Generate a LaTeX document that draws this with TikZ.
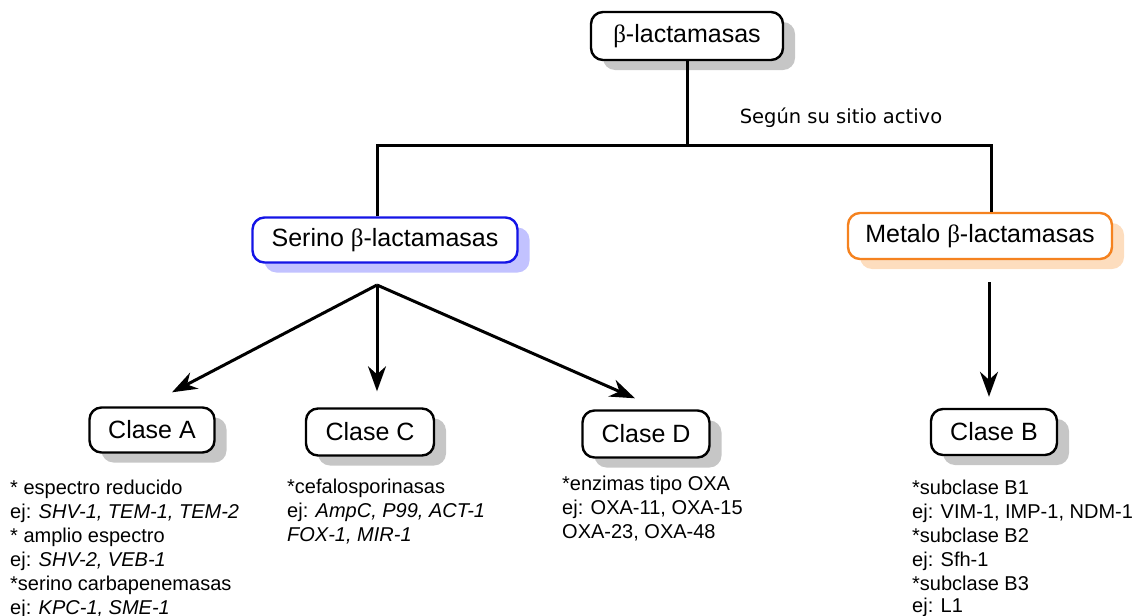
\documentclass[tikz,border=0pt]{standalone}
\usepackage{fontspec}
\setmainfont{Liberation Sans}
\newfontfamily\betafont{Liberation Serif}
\newfontfamily\notafont{DejaVu Sans}
\usetikzlibrary{shadows,arrows.meta}

\definecolor{azul}{HTML}{1414E6}
\definecolor{azulclaro}{HTML}{C2C2FF}
\definecolor{naranja}{HTML}{F5821F}
\definecolor{naranjaclaro}{HTML}{FDDDBE}
\definecolor{grisclaro}{HTML}{C6C6C6}

\newcommand{\bl}{{\betafont β}}

\tikzset{
  caja/.style={draw, line width=2.4pt, rounded corners=12pt, fill=white, inner sep=0pt,
    font=\fontsize{25}{29}\selectfont},
  sombra/.style={general shadow={fill=#1, shadow xshift=12pt, shadow yshift=-10pt}},
  linea/.style={line width=3pt},
  flecha/.style={line width=3pt, -{Stealth[length=25pt,width=18pt,inset=8pt]}},
  texto/.style={anchor=north west, align=left, inner sep=0pt,
    font=\fontsize{20}{24}\selectfont},
}

\begin{document}
\begin{tikzpicture}[x=1pt, y=-1pt]
    \useasboundingbox (0,0) rectangle (1141,616);

    % Top box and the two families
    \node[caja, sombra=grisclaro, minimum width=192pt, minimum height=48pt] (raiz) at (687,36) {\bl-lactamasas};
    \node[caja, draw=azul, sombra=azulclaro, minimum width=265pt, minimum height=45pt] (serino) at (385,240) {Serino \bl-lactamasas};
    \node[caja, draw=naranja, sombra=naranjaclaro, minimum width=264pt, minimum height=46pt] (metalo) at (980,236) {Metalo \bl-lactamasas};

    % Classes
    \node[caja, sombra=grisclaro, minimum width=125pt, minimum height=45pt] (claseA) at (152,430) {Clase A};
    \node[caja, sombra=grisclaro, minimum width=128pt, minimum height=47pt] (claseC) at (370,432) {Clase C};
    \node[caja, sombra=grisclaro, minimum width=127pt, minimum height=47pt] (claseD) at (646,434) {Clase D};
    \node[caja, sombra=grisclaro, minimum width=126pt, minimum height=46pt] (claseB) at (994,432) {Clase B};

    % Split by active site
    \coordinate (izq) at (377,145);
    \coordinate (der) at (991,145);
    \draw[linea] (raiz) -- (raiz |- izq);
    \draw[linea] (serino.north -| izq) -- (izq) -- (der) -- (der |- metalo.north);
    \node[font=\notafont\fontsize{19.5}{23}\selectfont] (criterio) at (841,118) {Según su sitio activo};

    % Arrows to the classes
    \coordinate (rama) at (377,285);
    \coordinate (ramab) at (989,282);
    \draw[flecha] (rama) -- ([shift={(20,-14)}]claseA.north);
    \draw[flecha] (rama) -- ([shift={(7,-16)}]claseC.north);
    \draw[flecha] (rama) -- ([shift={(-11,-11)}]claseD.north);
    \draw[flecha] (ramab) -- ([shift={(-5,-11)}]claseB.north);

    % Notes under each class
    \node[texto] (notaA) at (10,480) {* espectro reducido\\
        ej: \textit{SHV-1, TEM-1, TEM-2}\\
        * amplio espectro\\
        ej: \textit{SHV-2, VEB-1}\\
        *serino carbapenemasas\\
        ej: \textit{KPC-1, SME-1}};
    \node[texto] (notaC) at (287,479) {*cefalosporinasas\\
        ej: \textit{AmpC, P99, ACT-1}\\
        \textit{FOX-1, MIR-1}};
    \node[texto] (notaD) at (562,476) {*enzimas tipo OXA\\
        ej: OXA-11, OXA-15\\
        OXA-23, OXA-48};
    \node[texto] (notaB) at (912,480) {*subclase B1\\
        ej: VIM-1, IMP-1, NDM-1\\
        *subclase B2\\
        ej: Sfh-1\\
        *subclase B3\\[-2pt]
        ej: L1};
\end{tikzpicture}
\end{document}
